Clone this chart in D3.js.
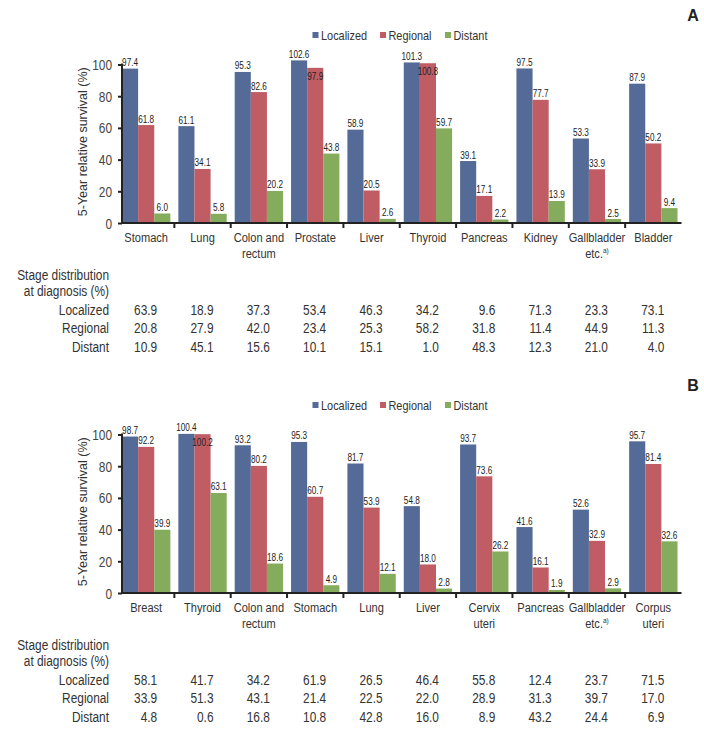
<!DOCTYPE html>
<html>
<head>
<meta charset="utf-8">
<script src="https://cdn.jsdelivr.net/npm/d3@7"></script>
<style>
html,body{margin:0;padding:0;background:#fff;}
svg{display:block;}
text{font-family:"Liberation Sans",Arial,sans-serif;fill:#333;}
</style>
</head>
<body>
<svg id="chart" width="704" height="730"></svg>
<script>
// ---------- DATA ----------
const seriesNames = ["Localized", "Regional", "Distant"];
const yTicks = [0, 20, 40, 60, 80, 100];

const categoriesA = ["Stomach", "Lung", "Colon and|rectum", "Prostate", "Liver", "Thyroid", "Pancreas", "Kidney", "Gallbladder|etc.^a)", "Bladder"];
const localizedA = [97.4, 61.1, 95.3, 102.6, 58.9, 101.3, 39.1, 97.5, 53.3, 87.9];
const regionalA  = [61.8, 34.1, 82.6, 97.9, 20.5, 100.8, 17.1, 77.7, 33.9, 50.2];
const distantA   = [6.0, 5.8, 20.2, 43.8, 2.6, 59.7, 2.2, 13.9, 2.5, 9.4];
const stageLocalizedA = ["63.9", "18.9", "37.3", "53.4", "46.3", "34.2", "9.6", "71.3", "23.3", "73.1"];
const stageRegionalA  = ["20.8", "27.9", "42.0", "23.4", "25.3", "58.2", "31.8", "11.4", "44.9", "11.3"];
const stageDistantA   = ["10.9", "45.1", "15.6", "10.1", "15.1", "1.0", "48.3", "12.3", "21.0", "4.0"];

const categoriesB = ["Breast", "Thyroid", "Colon and|rectum", "Stomach", "Lung", "Liver", "Cervix|uteri", "Pancreas", "Gallbladder|etc.^a)", "Corpus|uteri"];
const localizedB = [98.7, 100.4, 93.2, 95.3, 81.7, 54.8, 93.7, 41.6, 52.6, 95.7];
const regionalB  = [92.2, 100.2, 80.2, 60.7, 53.9, 18.0, 73.6, 16.1, 32.9, 81.4];
const distantB   = [39.9, 63.1, 18.6, 4.9, 12.1, 2.8, 26.2, 1.9, 2.9, 32.6];
const stageLocalizedB = ["58.1", "41.7", "34.2", "61.9", "26.5", "46.4", "55.8", "12.4", "23.7", "71.5"];
const stageRegionalB  = ["33.9", "51.3", "43.1", "21.4", "22.5", "22.0", "28.9", "31.3", "39.7", "17.0"];
const stageDistantB   = ["4.8", "0.6", "16.8", "10.8", "42.8", "16.0", "8.9", "43.2", "24.4", "6.9"];

// ---------- STYLE ----------
const colors = {"Localized": "#546a97", "Regional": "#c05c64", "Distant": "#84ac5c"};
const NARROW = 0.82;   // horizontal condensing of the font
const svg = d3.select("#chart");
svg.append("rect").attr("width", 704).attr("height", 730).attr("fill", "#fff");

function ntext(g, x, y, str, size, anchor, fill) {
  const t = g.append("text")
    .attr("transform", `translate(${x},${y}) scale(${NARROW},1)`)
    .attr("text-anchor", anchor || "start")
    .style("font-size", size + "px");
  if (fill) t.style("fill", fill);
  const parts = str.split("^");
  t.append("tspan").text(parts[0]);
  if (parts[1]) t.append("tspan").attr("dy", -5).style("font-size", "8px").text(parts[1]);
  return t;
}

function drawPanel(opts) {
  const {letter, top, cats, loc, reg, dis, sLoc, sReg, sDis} = opts;
  const y0 = top + 223;        // baseline of plot
  const y100 = top + 64.5;
  const g = svg.append("g");

  const x = d3.scaleBand().domain(cats).range([118, 681.5]).paddingInner(0).paddingOuter(0);
  const xs = d3.scaleBand().domain(seriesNames).range([4, x.bandwidth() - 4]);
  const y = d3.scaleLinear().domain([0, 100]).range([y0, y100]);

  // panel letter
  g.append("text").attr("x", 693).attr("y", top + 21).attr("text-anchor", "middle")
    .style("font-weight", "bold").style("font-size", "16px").style("fill", "#222").text(letter);

  // legend
  const legX = [312.5, 380, 445];
  const legY = top + 35;
  seriesNames.forEach((s, i) => {
    g.append("rect").attr("x", legX[i]).attr("y", legY - 3).attr("width", 6).attr("height", 6).attr("fill", colors[s]);
    ntext(g, legX[i] + 8.5, legY + 4.5, s, 13.3);
  });

  // bars
  const rows = cats.map((c, i) => ({cat: c, vals: [loc[i], reg[i], dis[i]]}));
  rows.forEach(r => {
    r.vals.forEach((v, j) => {
      const s = seriesNames[j];
      const bx = x(r.cat) + xs(s);
      g.append("rect").attr("x", bx).attr("y", y(v)).attr("width", xs.bandwidth())
        .attr("height", y(0) - y(v)).attr("fill", colors[s]);
      // labels: place inside bar when colliding with previous neighbour's label
      const prev = j > 0 ? r.vals[j - 1] : null;
      const inside = prev !== null && prev - v >= 0 && prev - v < 6;
      ntext(g, bx + xs.bandwidth() / 2, inside ? y(v) + 12 : y(v) - 2.5, v.toFixed(1), 10, "middle", "#222");
    });
  });

  // y axis
  const yAxis = d3.axisLeft(y).tickValues(yTicks).tickSize(4).tickSizeOuter(0).tickPadding(6);
  const ya = g.append("g").attr("transform", "translate(122,0)").call(yAxis);
  ya.select(".domain").attr("stroke", "#222").attr("stroke-width", 2).attr("d", `M0,${y0}V${y(100) - 1}`);
  ya.selectAll(".tick line").attr("stroke", "#222").attr("stroke-width", 2);
  ya.selectAll(".tick text").each(function() {
    const t = d3.select(this);
    const xx = +t.attr("x");
    t.attr("x", null).attr("dy", null)
      .attr("transform", `translate(${xx},5) scale(${NARROW},1)`)
      .style("font-family", "'Liberation Sans',Arial,sans-serif")
      .style("font-size", "14.5px").style("fill", "#444");
  });

  // y title
  g.append("text").attr("transform", `translate(87,${(y0 + y100) / 2 - 2}) rotate(-90)`)
    .attr("text-anchor", "middle")
    .style("font-size", "12.5px").style("fill", "#333")
    .text("5-Year relative survival (%)");

  // x axis line with separators
  g.append("line").attr("x1", 121).attr("x2", x.range()[1]).attr("y1", y0).attr("y2", y0)
    .attr("stroke", "#222").attr("stroke-width", 2);
  cats.slice(1).forEach(c => {
    g.append("line").attr("x1", x(c)).attr("x2", x(c)).attr("y1", y0).attr("y2", y0 + 5)
      .attr("stroke", "#222").attr("stroke-width", 2);
  });

  // category labels
  cats.forEach(c => {
    const cx = x(c) + x.bandwidth() / 2;
    c.split("|").forEach((line, li) => {
      ntext(g, cx, y0 + 18.5 + li * 16.5, line, 13.5, "middle");
    });
  });

  // stage distribution table
  const tfs = 14.5;
  ntext(g, 109, y0 + 57, "Stage distribution", tfs, "end");
  ntext(g, 109, y0 + 73, "at diagnosis (%)", tfs, "end");
  const tableRows = [["Localized", sLoc], ["Regional", sReg], ["Distant", sDis]];
  tableRows.forEach((tr, ri) => {
    const ty = y0 + 91.5 + ri * 18.7;
    ntext(g, 109, ty, tr[0], tfs, "end");
    cats.forEach((c, ci) => {
      ntext(g, x(c) + x.bandwidth() / 2 + 11, ty, tr[1][ci], tfs, "end");
    });
  });
}

drawPanel({letter: "A", top: 0, cats: categoriesA, loc: localizedA, reg: regionalA, dis: distantA,
  sLoc: stageLocalizedA, sReg: stageRegionalA, sDis: stageDistantA});
drawPanel({letter: "B", top: 370, cats: categoriesB, loc: localizedB, reg: regionalB, dis: distantB,
  sLoc: stageLocalizedB, sReg: stageRegionalB, sDis: stageDistantB});
</script>
</body>
</html>
